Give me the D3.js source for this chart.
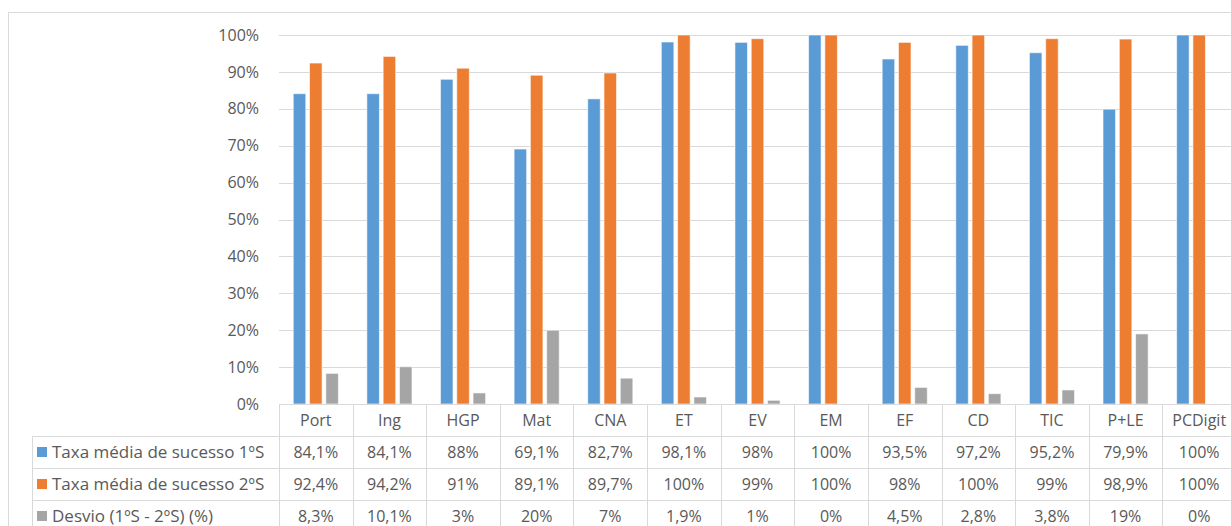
<!DOCTYPE html>
<html>
<head>
<meta charset="utf-8">
<script src="https://cdn.jsdelivr.net/npm/d3@7"></script>
<style>
  body { margin: 0; background: #fff; overflow: hidden; }
  text { font-family: "Open Sans", "Noto Sans", sans-serif; fill: #595959; }
</style>
</head>
<body>
<div id="chart"></div>
<script>
// chart data
var categories = ["Port", "Ing", "HGP", "Mat", "CNA", "ET", "EV", "EM", "EF", "CD", "TIC", "P+LE", "PCDigit"];
var seriesNames = ["Taxa média de sucesso 1ºS", "Taxa média de sucesso 2ºS", "Desvio (1ºS - 2ºS) (%)"];
var sucesso1 = [84.1, 84.1, 88, 69.1, 82.7, 98.1, 98, 100, 93.5, 97.2, 95.2, 79.9, 100];
var sucesso2 = [92.4, 94.2, 91, 89.1, 89.7, 100, 99, 100, 98, 100, 99, 98.9, 100];
var desvio = [8.3, 10.1, 3, 20, 7, 1.9, 1, 0, 4.5, 2.8, 3.8, 19, 0];
var yTicks = [0, 10, 20, 30, 40, 50, 60, 70, 80, 90, 100];
var colors = ["#5B9BD5", "#ED7D31", "#A5A5A5"];

var allSeries = [sucesso1, sucesso2, desvio];

var W = 1231, H = 526;
var plotLeft = 279, plotRight = 1236, plotTop = 35, plotBottom = 404;
var rowH = 32, legendLeft = 32, chartLeft = 8, chartTop = 12;

var svg = d3.select("#chart").append("svg")
  .attr("width", W)
  .attr("height", H);

// chart border
svg.append("rect")
  .attr("x", chartLeft + 0.5).attr("y", chartTop + 0.5)
  .attr("width", W + 20).attr("height", H + 20)
  .attr("fill", "none").attr("stroke", "#D9D9D9");

var x = d3.scaleBand()
  .domain(categories)
  .range([plotLeft, plotRight]);

var groupW = x.bandwidth() * 0.613;
var xs = d3.scaleBand()
  .domain(d3.range(3))
  .range([0, groupW])
  .paddingInner(0.23);

var y = d3.scaleLinear()
  .domain([0, 100])
  .range([plotBottom, plotTop]);

// gridlines
svg.append("g").selectAll("line")
  .data(yTicks.filter(function (d) { return d > 0; }))
  .enter().append("line")
    .attr("x1", plotLeft).attr("x2", plotRight)
    .attr("y1", function (d) { return Math.round(y(d)) + 0.5; })
    .attr("y2", function (d) { return Math.round(y(d)) + 0.5; })
    .attr("stroke", "#D9D9D9");

// y axis labels
var yAxis = d3.axisLeft(y)
  .tickValues(yTicks)
  .tickSize(0)
  .tickPadding(0)
  .tickFormat(function (d) { return d + "%"; });
var yg = svg.append("g")
  .attr("transform", "translate(259,0)")
  .call(yAxis);
yg.select(".domain").remove();
yg.selectAll("text")
  .style("font-size", "16px")
  .style("fill", "#595959")
  .style("font-family", "Open Sans");

// bars
allSeries.forEach(function (vals, s) {
  var pts = vals.map(function (v, i) { return { cat: categories[i], v: v }; })
    .filter(function (d) { return d.v > 0; });
  svg.append("g").selectAll("rect")
    .data(pts)
    .enter().append("rect")
      .attr("x", function (d) {
        return x(d.cat) + (x.bandwidth() - groupW) / 2 + xs(s);
      })
      .attr("y", function (d) { return y(d.v); })
      .attr("width", xs.bandwidth())
      .attr("height", function (d) { return plotBottom - y(d.v); })
      .attr("fill", colors[s])
      .attr("stroke", "#fff")
      .attr("stroke-opacity", 0.6)
      .attr("stroke-width", 1);
});

// data table
var lineColor = "#D9D9D9";
var table = svg.append("g");
var fmt = function (v) { return String(v).replace(".", ",") + "%"; };

// horizontal lines
table.append("line")
  .attr("x1", plotLeft).attr("x2", plotRight)
  .attr("y1", plotBottom + 0.5).attr("y2", plotBottom + 0.5)
  .attr("stroke", lineColor);
[1, 2, 3].forEach(function (r) {
  table.append("line")
    .attr("x1", legendLeft).attr("x2", plotRight)
    .attr("y1", plotBottom + r * rowH + 0.5).attr("y2", plotBottom + r * rowH + 0.5)
    .attr("stroke", lineColor);
});

// vertical lines
categories.forEach(function (c) {
  table.append("line")
    .attr("x1", Math.round(x(c)) + 0.5).attr("x2", Math.round(x(c)) + 0.5)
    .attr("y1", plotBottom).attr("y2", H + 10)
    .attr("stroke", lineColor);
});
table.append("line")
  .attr("x1", legendLeft + 0.5).attr("x2", legendLeft + 0.5)
  .attr("y1", plotBottom + rowH).attr("y2", H + 10)
  .attr("stroke", lineColor);

// category labels
table.selectAll("text.cat")
  .data(categories)
  .enter().append("text")
    .attr("class", "cat")
    .attr("x", function (d) { return x(d) + x.bandwidth() / 2; })
    .attr("y", plotBottom + rowH / 2)
    .attr("dy", "0.35em")
    .attr("text-anchor", "middle")
    .style("font-size", "16px")
    .text(function (d) { return d; });

// rows
allSeries.forEach(function (vals, s) {
  var cy = plotBottom + (s + 1) * rowH + rowH / 2;
  table.append("rect")
    .attr("x", 37).attr("y", cy - 5)
    .attr("width", 10).attr("height", 10)
    .attr("fill", colors[s]);
  table.append("text")
    .attr("x", 52).attr("y", cy)
    .attr("dy", "0.35em")
    .style("font-size", "17px")
    .text(seriesNames[s]);
  table.append("g").selectAll("text")
    .data(vals)
    .enter().append("text")
      .attr("x", function (d, i) { return x(categories[i]) + x.bandwidth() / 2; })
      .attr("y", cy)
      .attr("dy", "0.35em")
      .attr("text-anchor", "middle")
      .style("font-size", "16px")
      .text(fmt);
});
</script>
</body>
</html>
